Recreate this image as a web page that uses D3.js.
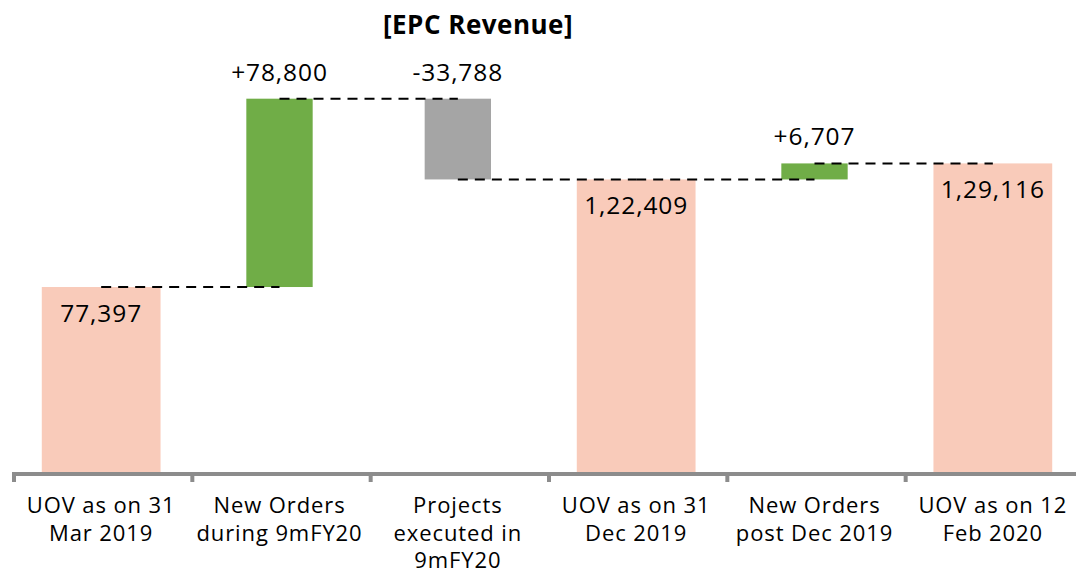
<!DOCTYPE html>
<html><head><meta charset="utf-8">
<script src="https://cdn.jsdelivr.net/npm/d3@7"></script>
<style>body{margin:0;background:#fff;} svg{display:block;}</style>
</head><body>
<svg id="c" width="1076" height="573"></svg>
<script>
const categories = [
  ["UOV as on 31", "Mar 2019"],
  ["New Orders", "during 9mFY20"],
  ["Projects", "executed in", "9mFY20"],
  ["UOV as on 31", "Dec 2019"],
  ["New Orders", "post Dec 2019"],
  ["UOV as on 12", "Feb 2020"]
];
const values = [77397, 78800, -33788, 122409, 6707, 129116];
const kinds = ["total", "delta", "delta", "total", "delta", "total"];
const labels = ["77,397", "+78,800", "-33,788", "1,22,409", "+6,707", "1,29,116"];
const title = "[EPC Revenue]";

const FONT = "'Open Sans', sans-serif";
const colors = { total: "#F9CBBA", up: "#70AD47", down: "#A5A5A5" };

const svg = d3.select("#c");
const x = d3.scaleBand().domain(d3.range(categories.length)).range([12, 1082]).padding(0);
const y = d3.scaleLinear().domain([0, 200000]).range([472, -6]);

let running = 0;
const segs = values.map((v, i) => {
  let y0, y1;
  if (kinds[i] === "total") { y0 = 0; y1 = v; running = v; }
  else { y0 = running; y1 = running + v; running = y1; }
  return { i, y0, y1, end: running, kind: kinds[i], v };
});

svg.append("g").selectAll("rect").data(segs).join("rect")
  .attr("x", d => x(d.i) + x.bandwidth() / 2 - (d.kind === "total" ? 0.333 : 0.186) * x.bandwidth())
  .attr("width", d => (d.kind === "total" ? 0.666 : 0.372) * x.bandwidth())
  .attr("y", d => y(Math.max(d.y0, d.y1)))
  .attr("height", d => Math.abs(y(d.y0) - y(d.y1)))
  .attr("fill", d => d.kind === "total" ? colors.total : (d.v >= 0 ? colors.up : colors.down));

svg.append("g").selectAll("line").data(segs.slice(0, -1)).join("line")
  .attr("x1", d => x(d.i) + x.bandwidth() / 2)
  .attr("x2", d => x(d.i + 1) + x.bandwidth() / 2)
  .attr("y1", d => y(d.end)).attr("y2", d => y(d.end))
  .attr("stroke", "#000").attr("stroke-width", 2).attr("stroke-dasharray", "10,7");

const axisG = svg.append("g").attr("transform", "translate(0,474)");
axisG.call(d3.axisBottom(x).tickSize(0).tickFormat(""));
axisG.select(".domain").attr("stroke", "#8C8C8C").attr("stroke-width", 4).attr("d", "M12,0H1082");
const bounds = d3.range(categories.length + 1).map(i => 12 + i * x.bandwidth());
axisG.selectAll(".btick").data(bounds).join("line").attr("class", "btick")
  .attr("x1", d => d + 2).attr("x2", d => d + 2).attr("y1", 0).attr("y2", 8)
  .attr("stroke", "#8C8C8C").attr("stroke-width", 4);

const cat = svg.append("g").selectAll("text").data(categories).join("text")
  .attr("x", (d, i) => x(i) + x.bandwidth() / 2)
  .attr("y", 513)
  .attr("text-anchor", "middle")
  .attr("font-family", FONT).attr("font-size", 22).attr("letter-spacing", 0.9).attr("fill", "#000");
cat.selectAll("tspan").data(d => d).join("tspan")
  .attr("x", function () { return this.parentNode.getAttribute("x"); })
  .attr("dy", (d, j) => j === 0 ? 0 : 27.5)
  .text(d => d);

svg.append("g").selectAll("text").data(segs).join("text")
  .attr("x", d => x(d.i) + x.bandwidth() / 2)
  .attr("y", d => d.kind === "total" ? y(d.y1) + 35 : y(Math.max(d.y0, d.y1)) - 18)
  .attr("text-anchor", "middle")
  .attr("font-family", FONT).attr("font-size", 24.5).attr("letter-spacing", 0.9).attr("fill", "#000")
  .text((d, i) => labels[i]);

svg.append("text").attr("x", 478).attr("y", 34).attr("text-anchor", "middle")
  .attr("font-family", FONT).attr("font-weight", "bold").attr("font-size", 26).attr("letter-spacing", 0.5)
  .attr("fill", "#000").text(title);
</script>
</body></html>
